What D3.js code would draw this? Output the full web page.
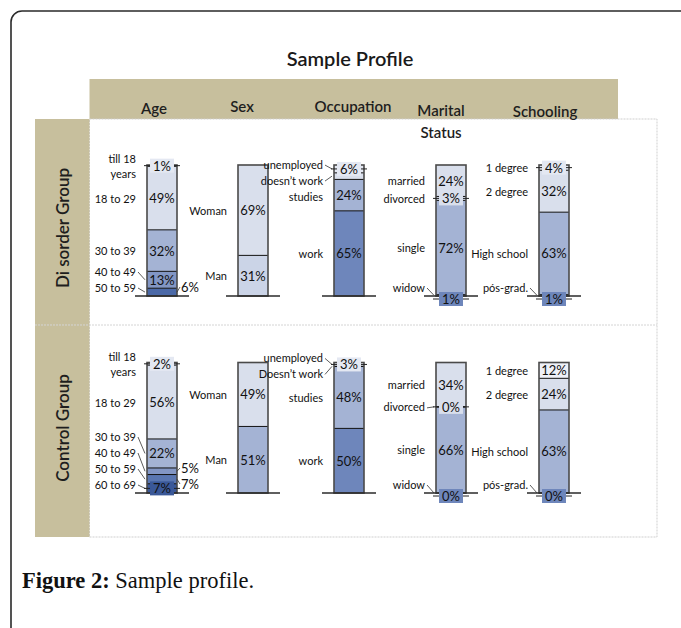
<!DOCTYPE html>
<html><head><meta charset="utf-8">
<script src="https://cdn.jsdelivr.net/npm/d3@7"></script>
<style>body{margin:0;background:#fff} svg{display:block}</style>
</head><body>
<svg id="c" width="681" height="628"></svg>
<script>
// ---------------- data ----------------
const title = "Sample Profile";
const captionBold = "Figure 2:";
const captionText = " Sample profile.";
const charts = ["Age","Sex","Occupation","Marital","Schooling"];
const chartHeaders = [["Age"],["Sex"],["Occupation"],["Marital","Status"],["Schooling"]];
const groups = ["Di sorder Group","Control Group"];

const disorderAgeCats = ["till 18\nyears","18 to 29","30 to 39","40 to 49","50 to 59"];
const disorderAgeVals = [1,49,32,13,6];
const controlAgeCats  = ["till 18\nyears","18 to 29","30 to 39","40 to 49","50 to 59","60 to 69"];
const controlAgeVals  = [2,56,22,5,7,7];
const sexCats = ["Woman","Man"];
const disorderSexVals = [69,31];
const controlSexVals  = [49,51];
const disorderOccCats = ["unemployed","doesn\u2019t work","studies","work"];
const controlOccCats  = ["unemployed","Doesn\u2019t work","studies","work"];
const disorderOccVals = [6,5,24,65];
const controlOccVals  = [3,0,48,50];
const maritalCats = ["married","divorced","single","widow"];
const disorderMaritalVals = [24,3,72,1];
const controlMaritalVals  = [34,0,66,0];
const schoolCats = ["1 degree","2 degree","High school","p\u00f3s-grad."];
const disorderSchoolVals = [4,32,63,1];
const controlSchoolVals  = [12,24,63,0];

// ---------------- styles ----------------
const C = {w:"#eef0f7", vl:"#e4e8f2", l:"#d9dfec", lm:"#cbd4e7", m:"#a4b3d4", md:"#8296c4", d:"#6e86bb", dd:"#4b69a7", ddd:"#3a5898"};
const disorderColors = [[C.vl,C.l,C.m,C.md,C.dd],[C.l,C.lm],[C.vl,C.l,C.m,C.d],[C.l,C.l,C.m,C.d],[C.vl,C.l,C.m,C.d]];
const controlColors  = [[C.vl,C.l,C.m,C.md,"#5976b1",C.ddd],[C.l,C.m],[C.vl,C.l,C.m,C.d],[C.l,C.l,C.m,C.d],[C.w,C.l,C.m,C.d]];
const disorderModes = [["box","in","in","in","right"],["in","in"],["box","none","in","in"],["in","box","in","bottom"],["box","in","in","bottom"]];
const controlModes  = [["box","in","in","right","right","box"],["in","in"],["box","none","in","in"],["in","box","in","bottom"],["in","in","in","bottom"]];

// ---------------- layout ----------------
const barCenters = [162, 253, 349, 451, 554];
const headerX = [154, 242, 353, 441, 545];
const headerY = [108, 106, 106, 110, 111];
const groupTops = [165, 362.5];
const groupBases = [296, 493];
const groupLabelY = [228, 428];
const barW = 30;
const FONT = "Lato, 'Open Sans', sans-serif";

const panels = [
  [[disorderAgeCats,disorderAgeVals],[sexCats,disorderSexVals],[disorderOccCats,disorderOccVals],[maritalCats,disorderMaritalVals],[schoolCats,disorderSchoolVals]],
  [[controlAgeCats,controlAgeVals],[sexCats,controlSexVals],[controlOccCats,controlOccVals],[maritalCats,controlMaritalVals],[schoolCats,controlSchoolVals]]
];
const colorsByGroup = [disorderColors, controlColors];
const modesByGroup = [disorderModes, controlModes];

const svg = d3.select("#c");
const x = d3.scaleOrdinal(charts, barCenters);

// outer rounded border
svg.append("rect").attr("x",11).attr("y",11).attr("width",720).attr("height",680)
  .attr("rx",11).attr("fill","none").attr("stroke","#2a2a2a").attr("stroke-width",1.6);

// title
svg.append("text").attr("x",350).attr("y",58).attr("text-anchor","middle").attr("dominant-baseline","central")
  .attr("font-family",FONT).attr("font-size",20).attr("font-weight",600).attr("fill","#1a1a1a").text(title);

// header band
const tan = "#c7bf9d";
svg.append("rect").attr("x",89.5).attr("y",79).attr("width",528.5).attr("height",40).attr("fill",tan);
// panel
svg.append("rect").attr("x",89.5).attr("y",119).attr("width",567.5).attr("height",418)
  .attr("fill","#fff").attr("stroke","#cfcfcf").attr("stroke-dasharray","2,1");
// left band
svg.append("rect").attr("x",35).attr("y",119).attr("width",54.5).attr("height",418).attr("fill",tan);
svg.append("line").attr("x1",35).attr("x2",657).attr("y1",325).attr("y2",325)
  .attr("stroke","#d4d4d4").attr("stroke-dasharray","2,1");

// header labels
chartHeaders.forEach((lines,i)=>{
  lines.forEach((t,j)=>{
    svg.append("text").attr("x",headerX[i]).attr("y",headerY[i]+j*22).attr("text-anchor","middle")
      .attr("dominant-baseline","central").attr("font-family",FONT).attr("font-size",15).attr("font-weight",600)
      .attr("fill","#1e1e1e").text(t);
  });
});

// group labels
groups.forEach((g,i)=>{
  svg.append("text").attr("transform",`translate(62,${groupLabelY[i]}) rotate(-90)`)
    .attr("text-anchor","middle").attr("dominant-baseline","central")
    .attr("font-family",FONT).attr("font-size",17).attr("font-weight",600).attr("fill","#1e1e1e").text(g);
});

function spread(items, spacing, lo, hi){
  items.forEach(d=>d.y=Math.min(hi,Math.max(lo,d.y0)));
  for(let it=0;it<800;it++){
    let moved=false;
    for(let i=0;i<items.length-1;i++){
      const a=items[i], b=items[i+1];
      const ov = spacing-(b.y-a.y);
      if(ov>0.01){a.y-=ov/2;b.y+=ov/2;moved=true;}
    }
    items.forEach(d=>d.y=Math.min(hi,Math.max(lo,d.y)));
    if(!moved)break;
  }
}

panels.forEach((row,gi)=>{
  const top = groupTops[gi], base = groupBases[gi];
  row.forEach(([cats,vals],ci)=>{
    const cx = x(charts[ci]);
    const bl = cx-barW/2, br = cx+barW/2;
    const total = d3.sum(vals);
    const y = d3.scaleLinear().domain([0,total]).range([base,top]);
    const colors = colorsByGroup[gi][ci];
    const modes = modesByGroup[gi][ci];
    let cum = 0;
    const segs = vals.map((v,i)=>{
      const s = {v, cat:cats[i], color:colors[i], mode:modes[i], y1:y(total-cum), y2:y(total-cum-v)};
      s.mid=(s.y1+s.y2)/2; cum+=v; return s;
    });
    const g = svg.append("g");
    g.selectAll("rect.seg").data(segs).join("rect").attr("class","seg")
      .attr("x",bl).attr("width",barW).attr("y",d=>d.y1).attr("height",d=>Math.max(0,d.y2-d.y1))
      .attr("fill",d=>d.color);
    g.selectAll("line.div").data(segs.slice(0,-1)).join("line").attr("class","div")
      .attr("x1",bl).attr("x2",br).attr("y1",d=>d.y2).attr("y2",d=>d.y2)
      .attr("stroke","#111").attr("stroke-width",1);
    g.append("rect").attr("x",bl).attr("y",top).attr("width",barW).attr("height",base-top)
      .attr("fill","none").attr("stroke","#4a4a4a").attr("stroke-width",1.6);
    g.append("line").attr("x1",bl-12).attr("x2",br+12).attr("y1",base).attr("y2",base)
      .attr("stroke","#2a2a2a").attr("stroke-width",1.6);

    // left category labels
    const items = segs.map(s=>({s, y0:s.mid}));
    spread(items,16,top-12,base-9);
    const lx = bl-11;
    items.forEach(it=>{
      const lines = it.s.cat.split("\n");
      const t = g.append("text").attr("x",lx).attr("text-anchor","end")
        .attr("font-family",FONT).attr("font-size",11).attr("fill","#111");
      lines.forEach((ln,j)=>{
        t.append("tspan").attr("x",lx).attr("y",it.y+(j-(lines.length-1)/2)*15)
          .attr("dominant-baseline","central").text(ln);
      });
      if(Math.abs(it.y-it.y0)>3 || it.s.v===0){
        g.append("line").attr("x1",lx+2).attr("y1",it.y+1).attr("x2",bl-2).attr("y2",it.y0)
          .attr("stroke","#333").attr("stroke-width",0.8);
      }
    });

    // right labels
    const rItems = segs.filter(s=>s.mode==="right").map(s=>({s,y0:s.mid+5}));
    spread(rItems,16,top,base-9);
    rItems.forEach(it=>{
      g.append("line").attr("x1",br).attr("y1",it.s.mid).attr("x2",br+3).attr("y2",it.y)
        .attr("stroke","#333").attr("stroke-width",0.8);
      g.append("text").attr("x",br+4).attr("y",it.y).attr("dominant-baseline","central")
        .attr("font-family",FONT).attr("font-size",13).attr("fill","#111").text(it.s.v+"%");
    });

    // value labels
    segs.forEach(s=>{
      if(s.mode==="none"||s.mode==="right")return;
      const cy = s.mode==="bottom" ? base+3 : s.mid;
      if(s.mode==="box"||s.mode==="bottom"){
        [[bl-3,bl+3],[br-3,br+3]].forEach(([a,b])=>{
          g.append("line").attr("x1",a).attr("x2",b).attr("y1",cy).attr("y2",cy)
            .attr("stroke","#222").attr("stroke-width",1);
        });
      }
      const t = g.append("text").attr("x",cx).attr("y",cy).attr("text-anchor","middle")
        .attr("dominant-baseline","central").attr("font-family",FONT).attr("font-size",13)
        .attr("fill","#111").text(s.v+"%");
      if(s.mode==="box"||s.mode==="bottom"){
        const bb = t.node().getBBox();
        g.insert("rect",()=>t.node()).attr("x",cx-bb.width/2-3).attr("y",cy-7)
          .attr("width",bb.width+6).attr("height",14).attr("fill",s.color);
      }
    });
  });
});

// caption
const cap = svg.append("text").attr("x",22).attr("y",588).attr("font-family","'Liberation Serif', 'Times New Roman', serif")
  .attr("font-size",22.5).attr("fill","#111");
cap.append("tspan").attr("font-weight",700).text(captionBold);
cap.append("tspan").text(captionText);
</script>
</body></html>
